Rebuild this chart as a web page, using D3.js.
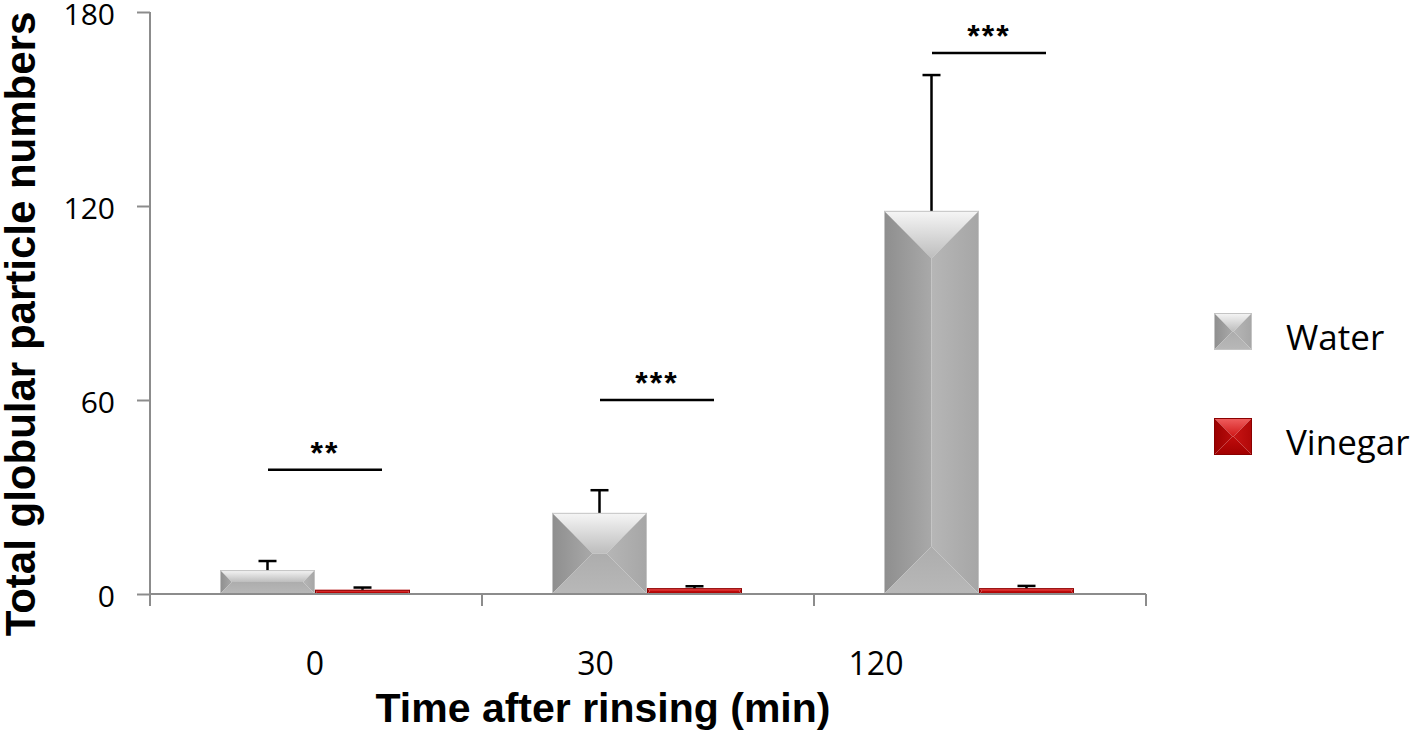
<!DOCTYPE html>
<html><head><meta charset="utf-8">
<script src="https://cdn.jsdelivr.net/npm/d3@7"></script>
<style>body{margin:0;background:#fff}svg{display:block}</style>
</head><body><svg id="c" width="1418" height="736"></svg>
<script>
const categories = ["0", "30", "120"];
const seriesNames = ["Water", "Vinegar"];
const waterValues = [7.4, 25.1, 118.5];
const waterErrors = [2.8, 7.0, 42.0];
const vinegarValues = [1.3, 1.8, 1.8];
const vinegarErrors = [0.7, 0.6, 0.7];
const sigLabels = ["**", "***", "***"];
const sigLevels = [38.4, 60, 167.3];
const yTicks = [0, 60, 120, 180];

const svg = d3.select("#c");
const m = {l:150, r:272, t:12, b:142};
const W = 1418, H = 736;
const x0 = d3.scaleBand().domain(categories).range([m.l, W - m.r]).paddingInner(0).paddingOuter(0);
const y = d3.scaleLinear().domain([0, 180]).range([H - m.b, m.t]);
const x1 = d3.scaleBand().domain(seriesNames).range([70, x0.bandwidth() - 72]);
const xLabel = d3.scalePoint().domain(categories).range([315, 876]);

const defs = svg.append("defs");
function lg(id, x1_, y1_, x2_, y2_, stops){
  const g = defs.append("linearGradient").attr("id", id).attr("x1",x1_).attr("y1",y1_).attr("x2",x2_).attr("y2",y2_);
  stops.forEach(s => g.append("stop").attr("offset", s[0]).attr("stop-color", s[1]));
}
lg("gTop","0","0","0","1",[[0,"#f6f6f6"],[1,"#bdbdbd"]]);
lg("gLeft","0","0","1","0",[[0,"#8e8e8e"],[1,"#a9a9a9"]]);
lg("gRight","1","0","0","0",[[0,"#a6a6a6"],[1,"#b6b6b6"]]);
lg("gBot","0","1","0","0",[[0,"#b8b8b8"],[1,"#adadad"]]);
lg("rTop","0","0","0","1",[[0,"#f06060"],[1,"#d01818"]]);
lg("rLeft","0","0","1","0",[[0,"#9a0000"],[1,"#b80c0c"]]);
lg("rRight","1","0","0","0",[[0,"#b00808"],[1,"#c81414"]]);
lg("rBot","0","1","0","0",[[0,"#a00000"],[1,"#c00c0c"]]);

const faces = {Water:["gTop","gLeft","gRight","gBot","#c4c4c4"], Vinegar:["rTop","rLeft","rRight","rBot","#8a0000"]};

function bevelRect(g, bx, by, bw, bh, name){
  const f = faces[name];
  const d = Math.min(bw, bh) / 2;
  const cx1 = bx + d, cx2 = bx + bw - d, cy1 = by + d, cy2 = by + bh - d;
  const P = pts => pts.map(p => p.join(",")).join(" ");
  g.append("polygon").attr("points", P([[bx,by],[bx+bw,by],[cx2,cy1],[cx1,cy1]])).attr("fill", `url(#${f[0]})`);
  g.append("polygon").attr("points", P([[bx,by],[cx1,cy1],[cx1,cy2],[bx,by+bh]])).attr("fill", `url(#${f[1]})`);
  g.append("polygon").attr("points", P([[bx+bw,by],[bx+bw,by+bh],[cx2,cy2],[cx2,cy1]])).attr("fill", `url(#${f[2]})`);
  g.append("polygon").attr("points", P([[bx,by+bh],[cx1,cy2],[cx2,cy2],[bx+bw,by+bh]])).attr("fill", `url(#${f[3]})`);
  g.append("rect").attr("x",bx+0.5).attr("y",by+0.5).attr("width",bw-1).attr("height",Math.max(0,bh-1)).attr("fill","none").attr("stroke",f[4]).attr("stroke-width",1);
}

const data = categories.map((c,i) => ({cat:c, vals:[
  {name:"Water", v:waterValues[i], e:waterErrors[i]},
  {name:"Vinegar", v:vinegarValues[i], e:vinegarErrors[i]}]}));

const bars = svg.append("g");
data.forEach(d => {
  d.vals.forEach(s => {
    const bx = x0(d.cat) + x1(s.name), bw = x1.bandwidth();
    const by = y(s.v), bh = y(0) - y(s.v);
    bevelRect(bars, bx, by, bw, bh, s.name);
    const ex = bx + bw/2;
    bars.append("line").attr("x1",ex).attr("x2",ex).attr("y1",by).attr("y2",y(s.v+s.e)).attr("stroke","#000").attr("stroke-width",2.5);
    bars.append("line").attr("x1",ex-9).attr("x2",ex+9).attr("y1",y(s.v+s.e)).attr("y2",y(s.v+s.e)).attr("stroke","#000").attr("stroke-width",2.5);
  });
});

// axes
const yAxis = d3.axisLeft(y).tickValues(yTicks).tickSize(13).tickPadding(22);
const gy = svg.append("g").attr("transform",`translate(${m.l},0)`).call(yAxis);
gy.select(".domain").remove();
gy.append("line").attr("x1",0).attr("x2",0).attr("y1",y(180)).attr("y2",y(0)+12).attr("stroke","#8c8c8c").attr("stroke-width",2);
gy.selectAll(".tick line").attr("stroke","#8c8c8c").attr("stroke-width",2);
gy.selectAll(".tick text").attr("font-family","'Open Sans', sans-serif").attr("font-size",30).attr("fill","#000").attr("dy","0.42em");

const gx = svg.append("g").attr("transform",`translate(0,${y(0)})`);
gx.append("line").attr("x1",m.l).attr("x2",W-m.r).attr("y1",0).attr("y2",0).attr("stroke","#8c8c8c").attr("stroke-width",2);
const bounds = categories.map(c => x0(c)).concat([x0(categories[categories.length-1]) + x0.bandwidth()]);
bounds.forEach(bx => gx.append("line").attr("x1",bx).attr("x2",bx).attr("y1",0).attr("y2",12).attr("stroke","#8c8c8c").attr("stroke-width",2));
categories.forEach(c => gx.append("text").attr("x", xLabel(c)).attr("y", 81).attr("text-anchor","middle")
  .attr("font-family","'Open Sans', sans-serif").attr("font-size",32).attr("fill","#000").text(c));

// significance brackets
categories.forEach((c,i) => {
  const cx = x0(c) + x1("Vinegar") + 10;
  const yy = y(sigLevels[i]);
  svg.append("line").attr("x1",cx-57).attr("x2",cx+57).attr("y1",yy).attr("y2",yy).attr("stroke","#000").attr("stroke-width",2.5);
  svg.append("text").attr("x",cx).attr("y",yy-6).attr("text-anchor","middle").attr("font-family","'Liberation Sans', Arial, sans-serif")
    .attr("font-weight","bold").attr("font-size",32).attr("letter-spacing",2).text(sigLabels[i]);
});

// axis titles
svg.append("text").attr("transform",`translate(35,324) rotate(-90)`).attr("text-anchor","middle")
  .attr("font-family","'Liberation Sans', Arial, sans-serif").attr("font-weight","bold").attr("font-size",42).text("Total globular particle numbers");
svg.append("text").attr("x",603).attr("y",722).attr("text-anchor","middle")
  .attr("font-family","'Liberation Sans', Arial, sans-serif").attr("font-weight","bold").attr("font-size",41).text("Time after rinsing (min)");

// legend
const leg = svg.append("g");
seriesNames.forEach((s,i) => {
  const ly = 313 + i*105;
  bevelRect(leg, 1214, ly, 38, 37, s);
  leg.append("text").attr("x",1286).attr("y",ly+37).attr("font-family","'Open Sans', sans-serif").attr("font-size",35).attr("fill","#000").text(s);
});
</script></body></html>
